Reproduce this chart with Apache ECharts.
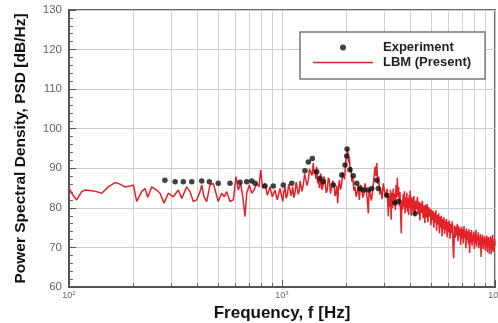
<!DOCTYPE html>
<html>
<head>
<meta charset="utf-8">
<script src="https://cdn.jsdelivr.net/npm/echarts@6/dist/echarts.min.js"></script>
<style>html,body{margin:0;padding:0;background:#fff;}#c{width:498px;height:323px;}</style>
</head>
<body>
<div id="c"></div>
<script>
// ---- data ----
var xTickValues = [100, 1000, 10000];
var yTicks = [60, 70, 80, 90, 100, 110, 120, 130];
var minorGridFreqs = [200, 300, 400, 500, 600, 700, 800, 900, 2000, 3000, 4000, 5000, 6000, 7000, 8000, 9000];

// LBM (Present): 100 Hz - 1 kHz
var lbmFreqLow = [
  100, 103, 108.7, 114.7, 118.9, 127.8, 134.9, 142.4, 152.9, 164.4, 173.5, 183.2, 193.4, 200.4, 207.9, 219.4, 227.4, 234.2, 244.5, 258.1,
  267.5, 279.3, 292.6, 308.9, 326.1, 338.3, 344.2, 357.1, 369.9, 383.4, 397.8, 412.3, 419.8, 430.4, 443.1, 459.2, 475.9, 490, 502.3, 521.2,
  536, 550.1, 570.1, 590.8, 608.3, 623.6, 640, 654, 670.5, 682.9, 702.4, 720.8, 738.9, 760.8, 779.9, 794.3, 811.6, 832, 852.9, 878.2,
  900.3, 926.9, 950.2, 978.6
];
var lbmPSDLow = [
  85.0, 83.7, 82.0, 84.1, 84.5, 84.3, 84.1, 83.7, 85.3, 86.4, 86.0, 85.3, 85.5, 85.8, 81.6, 84.1, 84.9, 82.7, 85.3, 84.5,
  83.7, 81.2, 83.7, 82.8, 84.5, 82.4, 82.8, 85.3, 84.1, 81.6, 82.0, 84.1, 85.8, 82.8, 81.6, 85.8, 86.2, 83.7, 81.6, 83.7,
  82.8, 84.1, 81.6, 82.0, 87.9, 84.5, 86.2, 82.8, 77.8, 83.7, 85.8, 83.7, 84.5, 86.2, 85.3, 89.6, 84.9, 86.2, 83.2, 85.3,
  82.8, 84.5, 82.0, 84.9
];
// LBM (Present): 1 kHz - 3.2 kHz
var lbmFreqMid = [
  1007.6, 1020, 1033, 1046, 1059, 1075, 1090.4, 1106, 1122.7, 1137,
  1151, 1165, 1180, 1193, 1205.7, 1215, 1224.1, 1241, 1258.9, 1277,
  1296.2, 1312, 1328.8, 1346, 1363.7, 1383, 1402.6, 1415, 1428.6, 1442,
  1455.1, 1468, 1480.5, 1500, 1519.4, 1536, 1552.6, 1572, 1591.7, 1612,
  1631.7, 1649, 1667.4, 1689, 1711.2, 1732, 1754.3, 1773, 1791.8, 1808,
  1825, 1842, 1858.9, 1883, 1907.7, 1925, 1941, 1966, 1991.5, 2013,
  2035.1, 2052, 2070.6, 2090, 2109, 2128, 2148.1, 2175, 2202.1, 2230,
  2257.6, 2282, 2306.9, 2337, 2367.6, 2397, 2427.2, 2453, 2480.2, 2511,
  2542.6, 2566, 2589.8, 2628, 2666.4, 2700, 2733.6, 2760, 2784.3, 2815,
  2845.2, 2876, 2907.4, 2948, 2990.3, 3034, 3078.9, 3118, 3156.4
];
var lbmPSDMid = [
  81.6, 84.0, 85.3, 82.4, 83.2, 86.0, 85.8, 83.0, 85.3, 82.6,
  83.7, 86.5, 86.2, 83.4, 84.5, 86.8, 87.0, 84.2, 85.8, 88.6,
  88.3, 85.6, 87.0, 89.8, 90.0, 88.2, 91.3, 88.5, 89.6, 87.4,
  90.4, 86.2, 87.5, 85.0, 88.7, 84.6, 85.3, 87.9, 87.0, 83.8,
  84.5, 87.6, 87.0, 83.6, 84.1, 86.8, 86.2, 83.0, 83.7, 85.6,
  81.2, 85.0, 87.0, 84.6, 86.2, 89.0, 88.7, 87.2, 91.7, 93.4,
  95.0, 91.4, 92.9, 89.0, 90.4, 86.6, 87.9, 84.4, 85.3, 82.8,
  84.1, 86.0, 82.0, 85.8, 84.9, 82.6, 83.7, 86.2, 84.9, 82.4,
  78.6, 84.8, 83.7, 81.8, 84.5, 87.6, 90.4, 88.0, 91.3, 86.0,
  87.9, 83.4, 84.9, 82.2, 86.2, 84.0, 82.8, 84.8, 77.8
];
// LBM (Present): 3.2 kHz - 10 kHz
var lbmFreqHigh = [
  3180, 3205, 3230, 3255, 3280, 3305, 3330, 3355, 3380, 3405, 3430, 3455, 3480, 3505, 3530, 3555, 3580, 3605, 3630, 3655,
  3680, 3705, 3730, 3755, 3780, 3805, 3830, 3855, 3880, 3905, 3930, 3955, 3980, 4000,
  4040, 4080, 4120, 4160, 4200, 4240, 4280, 4320, 4360, 4400, 4440, 4480, 4520, 4560, 4600, 4640, 4680, 4720, 4760, 4800,
  4840, 4880, 4920, 4960, 5000, 5040, 5080, 5120, 5160, 5200, 5240, 5280, 5320, 5360, 5400, 5440, 5480, 5520, 5560, 5600,
  5640, 5680, 5720, 5760, 5800, 5840, 5880, 5920, 5960, 6000,
  6050, 6100, 6150, 6200, 6250, 6300, 6350, 6400, 6450, 6500, 6550, 6600, 6650, 6700, 6750, 6800, 6850, 6900, 6950, 7000,
  7050, 7100, 7150, 7200, 7250, 7300, 7350, 7400, 7450, 7500, 7550, 7600, 7650, 7700, 7750, 7800, 7850, 7900, 7950, 8000,
  8050, 8100, 8150, 8200, 8250, 8300, 8350, 8400, 8450, 8500, 8550, 8600, 8650, 8700, 8750, 8800, 8850, 8900, 8950, 9000,
  9050, 9100, 9150, 9200, 9250, 9300, 9350, 9400, 9450, 9500, 9550, 9600, 9650, 9700, 9750, 9800, 9850, 9900, 9950, 10000
];
var lbmPSDHigh = [
  83.0, 80.2, 84.6, 77.0, 83.8, 80.0, 84.9, 81.2, 83.6, 79.4, 85.8, 82.5, 87.6, 83.0, 85.2, 80.4, 84.0, 78.8, 73.6, 82.0,
  79.6, 83.4, 80.2, 84.2, 78.6, 82.6, 80.0, 83.8, 79.0, 82.4, 78.2, 83.2, 80.0, 84.4,
  78.0, 82.6, 79.2, 83.0, 77.8, 81.8, 79.6, 82.8, 78.4, 81.6, 76.8, 81.2, 78.8, 81.8, 77.4, 80.6, 76.2, 80.8, 77.6, 81.0,
  76.4, 80.2, 77.8, 79.8, 75.6, 79.6, 76.8, 79.2, 75.0, 78.8, 76.2, 79.4, 74.2, 78.2, 75.8, 78.6, 73.6, 77.8, 75.0, 78.0,
  72.8, 77.2, 74.6, 77.6, 73.4, 76.8, 74.4, 77.2, 72.6, 76.4,
  73.8, 76.8, 72.2, 76.0, 73.6, 76.6, 70.4, 67.3, 75.6, 72.4, 75.2, 73.0, 76.0, 71.6, 75.4, 72.8, 74.8, 70.6, 75.2, 72.2,
  74.6, 71.0, 75.4, 72.4, 74.2, 69.8, 74.8, 71.8, 74.0, 70.8, 74.6, 68.6, 73.8, 71.2, 74.4, 70.4, 73.2, 71.6, 74.0, 69.6,
  73.6, 71.0, 74.4, 70.2, 73.0, 71.6, 73.8, 69.8, 72.8, 70.6, 73.4, 67.6, 72.6, 70.4, 73.2, 69.6, 72.4, 70.8, 72.8, 69.2,
  72.2, 70.2, 73.0, 68.8, 72.4, 70.6, 72.6, 68.4, 71.8, 69.8, 72.8, 68.2, 72.0, 69.6, 73.2, 69.0, 71.6, 68.8, 72.2, 70.4
];

var expFreq = [282, 315, 344, 377, 420, 456, 502, 570, 635, 683, 721, 747, 832, 910, 1014, 1111, 1282, 1329, 1388, 1456,
  1508, 1563, 1741, 1907, 1976, 2013, 2020, 2085, 2161, 2243, 2324, 2408, 2542, 2637, 2783, 2832, 3101, 3393, 3516, 4211];
var expPSD = [87.0, 86.6, 86.6, 86.6, 86.8, 86.6, 86.2, 86.2, 86.5, 86.6, 86.8, 86.2, 85.5, 85.5, 85.8, 86.2, 89.4, 91.6, 92.5, 89.1,
  87.5, 86.6, 85.8, 88.3, 90.8, 93.1, 94.9, 89.6, 88.1, 86.2, 84.9, 84.5, 84.5, 84.9, 87.0, 84.9, 83.2, 81.2, 81.6, 78.6];

var seriesNames = ['Experiment', 'LBM (Present)'];
var xName = 'Frequency, f [Hz]';
var yName = 'Power Spectral Density, PSD [dB/Hz]';

// ---- build ----
var lbmFreq = lbmFreqLow.concat(lbmFreqMid, lbmFreqHigh);
var lbmPSD = lbmPSDLow.concat(lbmPSDMid, lbmPSDHigh);
var lbmData = lbmFreq.map(function (f, i) { return [f, lbmPSD[i]]; });
var expData = expFreq.map(function (f, i) { return [f, expPSD[i]]; });
var yMin = yTicks[0], yMax = yTicks[yTicks.length - 1];
var FONT = '"Liberation Sans", Arial, sans-serif';
var RED = '#e3222a';
var chart = echarts.init(document.getElementById('c'), null, { renderer: 'canvas' });
chart.setOption({
  animation: false,
  backgroundColor: '#fff',
  grid: { left: 69, right: 3, top: 10, bottom: 36, outerBoundsMode: 'none', containLabel: false,
          show: true, borderColor: '#666', borderWidth: 2, backgroundColor: 'transparent' },
  legend: {
    orient: 'vertical', left: 300, top: 32,
    padding: [8, 14, 9, 13], itemGap: 0,
    itemWidth: 65, itemHeight: 6,
    backgroundColor: '#fff', borderColor: '#777', borderWidth: 1.5,
    data: [
      { name: seriesNames[0], icon: 'path://M27,3a3,3 0 1,0 6,0a3,3 0 1,0 -6,0Z M0,0H0.01V0.01H0Z M64.99,5.99H65V6H64.99Z' },
      { name: seriesNames[1], icon: 'path://M0,0H0.01V0.01H0Z M0,2.3H60V3.7H0Z M64.99,5.99H65V6H64.99Z' }
    ],
    textStyle: { fontFamily: FONT, fontWeight: 'bold', fontSize: 13, color: '#222', lineHeight: 15 },
    z: 10
  },
  xAxis: {
    type: 'log', logBase: 10, min: xTickValues[0], max: xTickValues[xTickValues.length - 1],
    name: xName, nameLocation: 'middle', nameGap: 17,
    nameTextStyle: { fontFamily: FONT, fontWeight: 'bold', fontSize: 17, color: '#111' },
    axisLine: { show: true, lineStyle: { color: '#555', width: 2 } },
    axisTick: { show: true, inside: true, length: 7, lineStyle: { color: '#555' } },
    splitLine: { show: true, lineStyle: { color: '#ccc', width: 1 } },
    axisLabel: {
      margin: 3, color: '#666', fontFamily: FONT, fontSize: 9,
      formatter: function (v) { return '10{s|' + Math.round(Math.log10(v)) + '}'; },
      rich: { s: { fontSize: 6, verticalAlign: 'top', padding: [0, 0, 5, 0], color: '#666', fontFamily: FONT } }
    }
  },
  yAxis: {
    type: 'value', min: yMin, max: yMax, interval: 10,
    name: yName, nameLocation: 'middle', nameGap: 40, nameRotate: 90,
    nameTextStyle: { fontFamily: FONT, fontWeight: 'bold', fontSize: 15.5, color: '#111' },
    axisLine: { show: true, lineStyle: { color: '#555', width: 2 } },
    axisTick: { show: true, inside: true, length: 7, lineStyle: { color: '#555' } },
    minorTick: { show: true, splitNumber: 5, length: 4, lineStyle: { color: '#666' } },
    splitLine: { show: true, lineStyle: { color: '#ccc', width: 1 } },
    axisLabel: { margin: 7, color: '#666', fontFamily: FONT, fontSize: 11.5 }
  },
  series: [
    {
      name: 'minorgrid', type: 'custom', z: 1, silent: true, clip: true,
      data: minorGridFreqs.map(function (f) { return [f]; }),
      encode: { x: 0 },
      renderItem: function (params, api) {
        var f = api.value(0);
        var pb = api.coord([f, yMin]);
        var pt = api.coord([f, yMax]);
        var x = Math.round(pb[0]) + 0.5;
        return {
          type: 'group',
          children: [
            { type: 'line', shape: { x1: x, y1: pt[1], x2: x, y2: pb[1] }, style: { stroke: '#d2d2d2', lineWidth: 1 } },
            { type: 'line', shape: { x1: x, y1: pb[1], x2: x, y2: pb[1] - 4 }, style: { stroke: '#666', lineWidth: 1 } }
          ]
        };
      }
    },
    {
      name: seriesNames[1], type: 'line', data: lbmData, symbol: 'none', z: 3,
      lineStyle: { color: RED, width: 1.5 }, itemStyle: { color: RED }
    },
    {
      name: seriesNames[0], type: 'scatter', data: expData, symbol: 'circle', symbolSize: 5.5, z: 4,
      itemStyle: { color: '#111' }
    }
  ]
});
</script>
</body>
</html>
